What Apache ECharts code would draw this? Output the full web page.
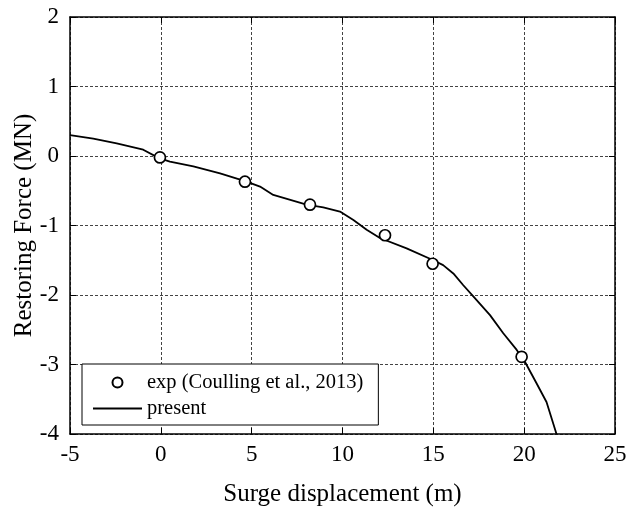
<!DOCTYPE html>
<html>
<head>
<meta charset="utf-8">
<script src="https://cdn.jsdelivr.net/npm/echarts@6/dist/echarts.min.js"></script>
<style>
  html, body { margin: 0; padding: 0; background: #fff; }
  #chart { width: 627px; height: 511px; }
</style>
</head>
<body>
<div id="chart"></div>
<script>
// Experimental restoring force samples (Coulling et al., 2013)
const expX = [-0.05, 4.63, 8.21, 12.34, 14.96, 19.86];
const expY = [-0.02, -0.37, -0.70, -1.14, -1.55, -2.89];

// Present model: restoring force vs. surge displacement
const modelX = [-5, -3.72, -2.43, -0.97, -0.1, 0.5, 1.79, 3.26, 4.72, 5.46, 6.19, 8.02, 8.94, 9.86, 10.6, 11.33, 12.06, 13.53, 15.0, 15.54, 16.1, 16.65, 17.2, 18.12, 18.85, 19.59, 20.04, 20.68, 21.23, 21.78];
const modelY = [0.30, 0.25, 0.18, 0.09, -0.03, -0.08, -0.15, -0.25, -0.37, -0.44, -0.56, -0.70, -0.74, -0.80, -0.92, -1.06, -1.18, -1.33, -1.50, -1.57, -1.69, -1.86, -2.02, -2.29, -2.55, -2.79, -2.96, -3.27, -3.54, -4.0];

const seriesNames = ['exp (Coulling et al., 2013)', 'present'];
const xTitle = 'Surge displacement (m)';
const yTitle = 'Restoring Force (MN)';

const serif = "'Liberation Serif', 'Times New Roman', serif";

const chart = echarts.init(document.getElementById('chart'), null, { renderer: 'canvas' });

const gridLine = { show: true, lineStyle: { color: '#444', width: 1, type: [3, 2] } };
const boxLine = { show: true, onZero: false, lineStyle: { color: '#000', width: 1.5 } };
const inTick = { show: true, inside: true, length: 6, lineStyle: { color: '#000', width: 1 } };

chart.setOption({
  backgroundColor: '#fff',
  animation: false,
  grid: { left: 70, top: 17, right: 12, bottom: 77, containLabel: false, outerBoundsMode: 'none' },
  xAxis: [
    {
      type: 'value', min: -5, max: 25, interval: 5, position: 'bottom',
      name: xTitle, nameLocation: 'middle', nameGap: 48, nameMoveOverlap: false,
      nameTextStyle: { fontFamily: serif, fontSize: 25, color: '#000' },
      axisLine: boxLine, axisTick: inTick,
      axisLabel: { fontFamily: serif, fontSize: 23, color: '#000', margin: 9 },
      splitLine: gridLine
    },
    {
      type: 'value', min: -5, max: 25, interval: 5, position: 'top',
      axisLine: boxLine, axisTick: inTick, axisLabel: { show: false }, splitLine: { show: false }
    }
  ],
  yAxis: [
    {
      type: 'value', min: -4, max: 2, interval: 1, position: 'left',
      name: yTitle, nameLocation: 'middle', nameGap: 33, nameMoveOverlap: false,
      nameTextStyle: { fontFamily: serif, fontSize: 25, color: '#000' },
      axisLine: boxLine, axisTick: inTick,
      axisLabel: { fontFamily: serif, fontSize: 23, color: '#000', margin: 11 },
      splitLine: gridLine
    },
    {
      type: 'value', min: -4, max: 2, interval: 1, position: 'right',
      axisLine: boxLine, axisTick: inTick, axisLabel: { show: false }, splitLine: { show: false }
    }
  ],
  legend: {
    orient: 'vertical',
    left: 82, top: 364,
    padding: [8, 15, 6, 11],
    itemGap: 5,
    itemWidth: 49, itemHeight: 10,
    backgroundColor: '#fff',
    borderColor: '#000', borderWidth: 1,
    borderRadius: 0,
    textStyle: { fontFamily: serif, fontSize: 20.5, lineHeight: 20, color: '#000' },
    data: [
      { name: seriesNames[0] },
      { name: seriesNames[1], icon: 'path://M0,0 L49,0 L49,1.8 L0,1.8 Z', itemStyle: { color: '#000' } }
    ]
  },
  series: [
    {
      name: seriesNames[0],
      type: 'scatter',
      data: expX.map((x, i) => [x, expY[i]]),
      symbol: 'circle', symbolSize: 11,
      itemStyle: { color: '#fff', borderColor: '#000', borderWidth: 1.7, opacity: 1 },
      z: 3
    },
    {
      name: seriesNames[1],
      type: 'line',
      data: modelX.map((x, i) => [x, modelY[i]]),
      symbol: 'none', showSymbol: false,
      smooth: false,
      lineStyle: { color: '#000', width: 1.8, join: 'round' },
      itemStyle: { color: '#000' },
      z: 2
    }
  ]
});
</script>
</body>
</html>
